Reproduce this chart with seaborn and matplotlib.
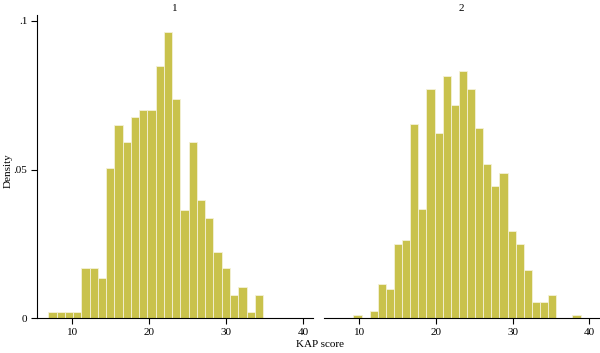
import numpy as np
import pandas as pd
import seaborn as sns
import matplotlib.pyplot as plt

# KAP score histograms by group (density)
groups = ["1", "2"]

g1_start = 6.88
g1_width = 1.074
g1_density = [0.0022, 0.0022, 0.0022, 0.0022, 0.0168, 0.0168, 0.0135, 0.0507,
              0.0650, 0.0593, 0.0677, 0.0702, 0.0702, 0.0847, 0.0962, 0.0736,
              0.0363, 0.0593, 0.0397, 0.0337, 0.0224, 0.0168, 0.0078, 0.0106,
              0.0022, 0.0078]

g2_start = 9.22
g2_width = 1.059
g2_density = [0.0011, 0.0, 0.0024, 0.0115, 0.0098, 0.0249, 0.0263, 0.0655,
              0.0369, 0.0772, 0.0622, 0.0816, 0.0716, 0.0833, 0.0770, 0.0639,
              0.0518, 0.0444, 0.0488, 0.0294, 0.0249, 0.0162, 0.0054, 0.0054,
              0.0079, 0.0, 0.0, 0.0011]

x_ticks = [10, 20, 30, 40]
y_ticks = [0, 0.05, 0.1]
y_labels = ["0", ".05", ".1"]

bar_color = "#c9c24c"

plt.rcParams["font.family"] = ["Liberation Serif", "DejaVu Serif"]
plt.rcParams["font.size"] = 8

fig = plt.figure(figsize=(6, 3.53), dpi=100)
ax1 = fig.add_axes([0.0617, 0.0983, 0.46, 0.8592])
ax2 = fig.add_axes([0.5405, 0.0983, 0.4580, 0.8592])

for ax, name, start, width, dens in [(ax1, groups[0], g1_start, g1_width, g1_density),
                                     (ax2, groups[1], g2_start, g2_width, g2_density)]:
    edges = [start + width * i for i in range(len(dens) + 1)]
    mids = [e + width / 2 for e in edges[:-1]]
    df = pd.DataFrame({"mid": mids, "density": dens})
    sns.histplot(data=df, x="mid", weights="density", bins=edges, ax=ax,
                 color=bar_color, alpha=1, edgecolor="#f4f1d8", linewidth=0.6)
    ax.set_xlim(5.42, 41.3)
    ax.set_ylim(0, 0.102)
    ax.set_xticks(x_ticks)
    ax.set_xlabel("")
    ax.set_ylabel("")
    ax.set_title(name, fontsize=8, pad=3)
    ax.spines["top"].set_visible(False)
    ax.spines["right"].set_visible(False)
    ax.tick_params(direction="out", length=4, width=0.8, labelsize=8, pad=3)
    ax.spines["bottom"].set_linewidth(0.8)
    ax.spines["left"].set_linewidth(0.8)

ax1.set_yticks(y_ticks)
ax1.set_yticklabels(y_labels)
ax2.spines["left"].set_visible(False)
ax2.set_yticks([])

fig.text(0.013, 0.518, "Density", rotation=90, ha="center", va="center", fontsize=8)
fig.text(0.533, 0.01, "KAP score", ha="center", va="bottom", fontsize=8)

fig.savefig("out.png", dpi=100)
